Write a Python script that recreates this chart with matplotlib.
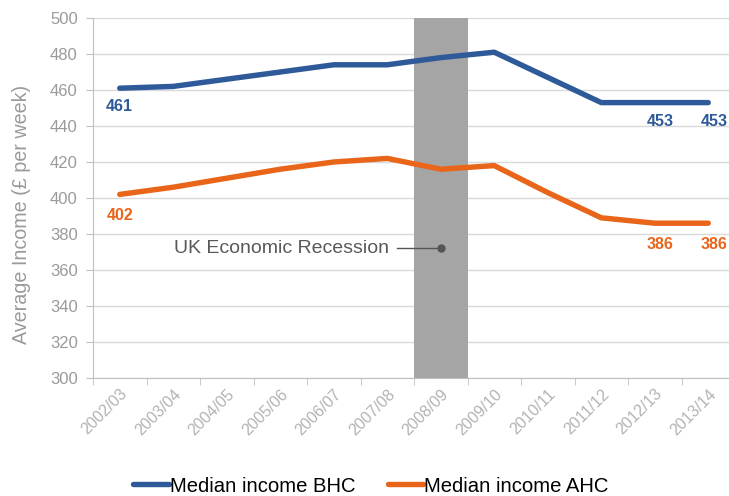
import numpy as np
import matplotlib.pyplot as plt

plt.rcParams['font.family'] = ['Liberation Sans', 'DejaVu Sans']

years = ['2002/03', '2003/04', '2004/05', '2005/06', '2006/07', '2007/08',
         '2008/09', '2009/10', '2010/11', '2011/12', '2012/13', '2013/14']
bhc = [461, 462, 466, 470, 474, 474, 478, 481, 467, 453, 453, 453]
ahc = [402, 406, 411, 416, 420, 422, 416, 418, 403, 389, 386, 386]
recession_year = '2008/09'
recession_label_y = 372

blue = '#2E5A99'
orange = '#E8651A'
grey_txt = '#9a9a9a'

fig = plt.figure(figsize=(7.29, 4.96), dpi=100)
ax = fig.add_axes([93 / 729, 118 / 496, 642 / 729, 360 / 496])

x = np.arange(len(years))
ri = years.index(recession_year)

# recession band
ax.axvspan(ri - 0.5, ri + 0.5, color='#a5a5a6', zorder=1, lw=0)

ax.plot(x, bhc, color=blue, lw=3.9, solid_capstyle='round', zorder=3,
        label='Median income BHC')
ax.plot(x, ahc, color=orange, lw=3.9, solid_capstyle='round', zorder=3,
        label='Median income AHC')

# value labels at first and last points
for i in [0, 10, 11]:
    dx = 0 if i == 0 else 4
    ax.annotate(str(bhc[i]), (x[i], bhc[i]), xytext=(dx, -8), textcoords='offset points',
                ha='center', va='top', color=blue, fontsize=11.5, fontweight='bold')
    ax.annotate(str(ahc[i]), (x[i], ahc[i]), xytext=(dx, -10), textcoords='offset points',
                ha='center', va='top', color=orange, fontsize=11.5, fontweight='bold')

# recession callout
ax.plot([ri - 0.82, ri], [recession_label_y, recession_label_y], color='#555555', lw=1, zorder=4)
ax.plot(ri, recession_label_y, 'o', color='#555555', ms=5, zorder=4)
ax.text(ri - 0.97, recession_label_y, 'UK Economic Recession', ha='right', va='center',
        color='#595959', fontsize=14)

ax.set_xlim(-0.5, len(years) - 0.5)
ax.set_ylim(300, 500)
ax.set_yticks(np.arange(300, 501, 20))
ax.grid(axis='y', color='#d9d9d9', lw=1)
ax.set_axisbelow(True)

ax.set_xticks(x)
ax.set_xticklabels(years, rotation=45, ha='right', rotation_mode='anchor',
                   color='#b3b3b3', fontsize=11.5)
ax.set_xticks(np.arange(len(years) + 1) - 0.5, minor=True)
ax.tick_params(axis='x', which='major', length=0, pad=6)
ax.tick_params(axis='x', which='minor', length=5, color='#bfbfbf')
ax.tick_params(axis='y', length=5, color='#bfbfbf', labelcolor=grey_txt, labelsize=12, pad=6)

for s in ['top', 'right']:
    ax.spines[s].set_visible(False)
for s in ['left', 'bottom']:
    ax.spines[s].set_color('#bfbfbf')

ax.set_ylabel('Average Income (£ per week)', color=grey_txt, fontsize=14.2)
ax.yaxis.set_label_coords(-0.097, 0.453)

fig.legend(loc='center', bbox_to_anchor=(0.509, 0.02), ncol=2, frameon=False,
           fontsize=14.6, handlelength=1.75, handletextpad=0.05, columnspacing=1.6)

fig.savefig('out.png', dpi=100)
